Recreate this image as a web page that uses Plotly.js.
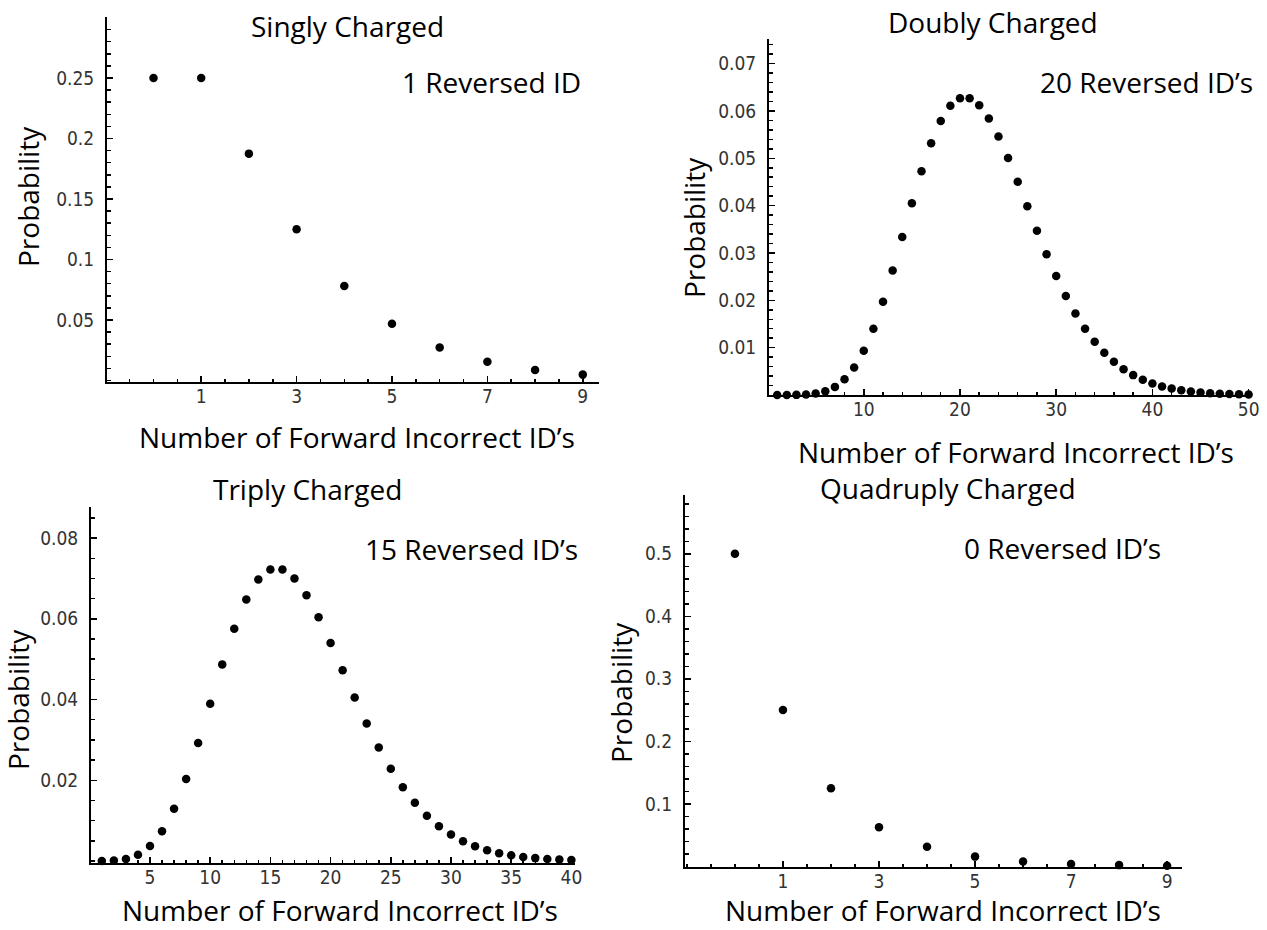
<!DOCTYPE html>
<html>
<head>
<meta charset="utf-8">
<script src="https://cdn.plot.ly/plotly-3.0.1.min.js"></script>
<style>
html,body{margin:0;padding:0;background:#fff;}
#chart{width:1267px;height:930px;}
</style>
</head>
<body>
<div id="chart"></div>
<script>
// ---------------- data ----------------
var singlyX = [0, 1, 2, 3, 4, 5, 6, 7, 8, 9];
var singlyY = [0.25, 0.25, 0.1875, 0.125, 0.0781, 0.0469, 0.0273, 0.0156, 0.0088, 0.0049];

var doublyX = [1, 2, 3, 4, 5, 6, 7, 8, 9, 10, 11, 12, 13, 14, 15, 16, 17, 18, 19, 20,
               21, 22, 23, 24, 25, 26, 27, 28, 29, 30, 31, 32, 33, 34, 35, 36, 37, 38, 39, 40,
               41, 42, 43, 44, 45, 46, 47, 48, 49, 50];
var doublyY = [0.0000005, 0.0000050, 0.0000274, 0.000106, 0.000317, 0.000792, 0.001715, 0.003308, 0.005789, 0.009327,
               0.013990, 0.019714, 0.026285, 0.033362, 0.040511, 0.047263, 0.053171, 0.057862, 0.061077, 0.062684,
               0.062684, 0.061192, 0.058410, 0.054601, 0.050051, 0.045046, 0.039848, 0.034683, 0.029728, 0.025115,
               0.020929, 0.017216, 0.013988, 0.011233, 0.008920, 0.007009, 0.005451, 0.004199, 0.003205, 0.002424,
               0.001818, 0.001352, 0.000998, 0.000731, 0.000532, 0.000384, 0.000276, 0.000196, 0.000139, 0.000098];

var triplyX = [1, 2, 3, 4, 5, 6, 7, 8, 9, 10, 11, 12, 13, 14, 15, 16, 17, 18, 19, 20,
               21, 22, 23, 24, 25, 26, 27, 28, 29, 30, 31, 32, 33, 34, 35, 36, 37, 38, 39, 40];
var triplyY = [0.0000153, 0.000122, 0.000519, 0.001556, 0.003696, 0.007393, 0.012937, 0.020330, 0.029225, 0.038966,
               0.048708, 0.057564, 0.064759, 0.069741, 0.072232, 0.072232, 0.069974, 0.065858, 0.060370, 0.054015,
               0.047263, 0.040511, 0.034066, 0.028142, 0.022865, 0.018292, 0.014423, 0.011218, 0.008614, 0.006535,
               0.004901, 0.003636, 0.002670, 0.001942, 0.001399, 0.000999, 0.000708, 0.000498, 0.000347, 0.000240];

var quadX = [0, 1, 2, 3, 4, 5, 6, 7, 8, 9];
var quadY = [0.5, 0.25, 0.125, 0.0625, 0.0313, 0.0156, 0.0078, 0.0039, 0.0020, 0.0010];

// tick labels
var singlyXTicks = [1, 3, 5, 7, 9];
var singlyYTicks = [0.05, 0.1, 0.15, 0.2, 0.25];
var singlyYText  = ["0.05", "0.1", "0.15", "0.2", "0.25"];
var doublyXTicks = [10, 20, 30, 40, 50];
var doublyYTicks = [0.01, 0.02, 0.03, 0.04, 0.05, 0.06, 0.07];
var doublyYText  = ["0.01", "0.02", "0.03", "0.04", "0.05", "0.06", "0.07"];
var triplyXTicks = [5, 10, 15, 20, 25, 30, 35, 40];
var triplyYTicks = [0.02, 0.04, 0.06, 0.08];
var triplyYText  = ["0.02", "0.04", "0.06", "0.08"];
var quadXTicks = [1, 3, 5, 7, 9];
var quadYTicks = [0.1, 0.2, 0.3, 0.4, 0.5];
var quadYText  = ["0.1", "0.2", "0.3", "0.4", "0.5"];

var panelTitles = ["Singly Charged", "Doubly Charged", "Triply Charged", "Quadruply Charged"];
var panelNotes = ["1 Reversed ID", "20 Reversed ID\u2019s", "15 Reversed ID\u2019s", "0 Reversed ID\u2019s"];
var xTitle = "Number of Forward Incorrect ID\u2019s";
var yTitle = "Probability";

// ---------------- layout helpers ----------------
var W = 1267, H = 930;
function fx(px) { return px / W; }
function fy(py) { return 1 - py / H; }

var tickFont = {family: "DejaVu Sans Condensed, DejaVu Sans, sans-serif", size: 19, color: "#333"};
var textFont = {family: "Open Sans, sans-serif", size: 28, color: "#000"};

function axis(domPx, range, tickvals, ticktext, minorDtick, isY) {
  var dom = isY ? [fy(domPx[1]), fy(domPx[0])] : [fx(domPx[0]), fx(domPx[1])];
  var a = {
    domain: dom,
    range: range,
    autorange: false,
    showline: true, linewidth: 2, linecolor: "#000",
    showgrid: false, zeroline: false,
    ticks: "inside", ticklen: 6, tickwidth: 1.5, tickcolor: "#000",
    tickmode: "array", tickvals: tickvals,
    tickfont: tickFont,
    ticklabelstandoff: isY ? 7 : -4,
    minor: {ticks: "inside", ticklen: 3.5, tickwidth: 1.5, tickcolor: "#000",
            tickmode: "linear", tick0: 0, dtick: minorDtick, showgrid: false},
    fixedrange: true
  };
  if (ticktext) a.ticktext = ticktext;
  return a;
}

var marker = {color: "#000", size: 8.5};
function trace(x, y, xa, ya) {
  return {x: x, y: y, xaxis: xa, yaxis: ya, type: "scatter", mode: "markers",
          marker: marker, cliponaxis: false, hoverinfo: "x+y", showlegend: false};
}

var data = [
  trace(singlyX, singlyY, "x", "y"),
  trace(doublyX, doublyY, "x2", "y2"),
  trace(triplyX, triplyY, "x3", "y3"),
  trace(quadX, quadY, "x4", "y4")
];

function ann(text, px, py, angle) {
  return {text: text, xref: "paper", yref: "paper", x: fx(px), y: fy(py),
          xanchor: "center", yanchor: "middle", showarrow: false,
          font: textFont, textangle: angle || 0};
}

var annotations = [
  ann(panelTitles[0], 347, 26), ann(panelTitles[1], 993, 22),
  ann(panelTitles[2], 307, 489), ann(panelTitles[3], 948, 488),
  ann(panelNotes[0], 491, 82), ann(panelNotes[1], 1146, 82),
  ann(panelNotes[2], 471, 549), ann(panelNotes[3], 1062, 548),
  ann(yTitle, 28, 197, -90), ann(yTitle, 694, 228, -90),
  ann(yTitle, 18, 700, -90), ann(yTitle, 621, 693, -90),
  ann(xTitle, 357, 437), ann(xTitle, 1016, 452),
  ann(xTitle, 340, 910), ann(xTitle, 943, 910)
];

var layout = {
  width: W, height: H,
  margin: {l: 0, r: 0, t: 0, b: 0, pad: 0},
  paper_bgcolor: "#fff", plot_bgcolor: "#fff",
  showlegend: false,
  xaxis:  Object.assign(axis([107, 599], [-0.975, 9.34], singlyXTicks, null, 0.5, false), {anchor: "y"}),
  yaxis:  Object.assign(axis([17, 382], [-0.0012, 0.3004], singlyYTicks, singlyYText, 0.01, true), {anchor: "x"}),
  xaxis2: Object.assign(axis([769, 1252], [0.15, 50.35], doublyXTicks, null, 2, false), {anchor: "y2"}),
  yaxis2: Object.assign(axis([39, 395], [0, 0.0752], doublyYTicks, doublyYText, 0.002, true), {anchor: "x2"}),
  xaxis3: Object.assign(axis([91, 575], [0.1, 40.3], triplyXTicks, null, 1, false), {anchor: "y3"}),
  yaxis3: Object.assign(axis([507, 863], [-0.0005, 0.0877], triplyYTicks, triplyYText, 0.005, true), {anchor: "x3"}),
  xaxis4: Object.assign(axis([685, 1182], [-1.04, 9.31], quadXTicks, null, 0.5, false), {anchor: "y4"}),
  yaxis4: Object.assign(axis([495, 867], [-0.001, 0.594], quadYTicks, quadYText, 0.02, true), {anchor: "x4"}),
  annotations: annotations
};

Plotly.newPlot("chart", data, layout, {displayModeBar: false, staticPlot: true});
</script>
</body>
</html>
